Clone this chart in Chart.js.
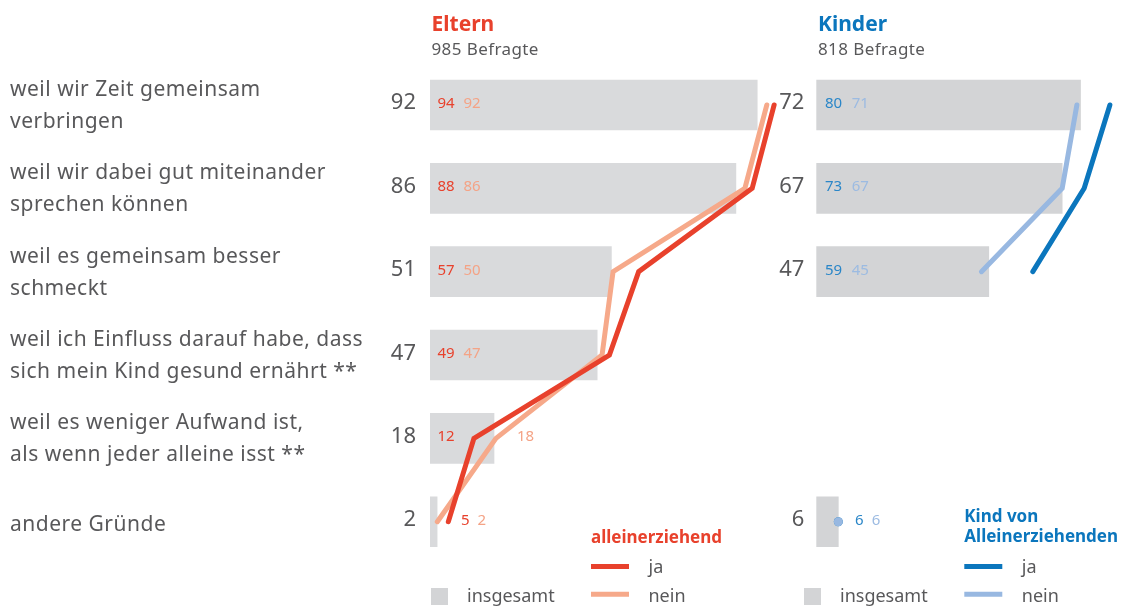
<!DOCTYPE html>
<html>
<head>
<meta charset="utf-8">
<script src="https://cdn.jsdelivr.net/npm/chart.js@4.4.1/dist/chart.umd.min.js"></script>
<style>
  body { margin: 0; background: #fff; width: 1127px; height: 608px; position: relative; overflow: hidden; }
  #eltern { position: absolute; left: 0; top: 0; }
  #kinder { position: absolute; left: 760px; top: 0; }
</style>
</head>
<body>
<canvas id="eltern" width="790" height="608"></canvas>
<canvas id="kinder" width="367" height="608"></canvas>
<script>
// categories
const categories = [
  ['weil wir Zeit gemeinsam', 'verbringen'],
  ['weil wir dabei gut miteinander', 'sprechen können'],
  ['weil es gemeinsam besser', 'schmeckt'],
  ['weil ich Einfluss darauf habe, dass', 'sich mein Kind gesund ernährt **'],
  ['weil es weniger Aufwand ist,', 'als wenn jeder alleine isst **'],
  ['andere Gründe']
];

// Eltern (%)
const elternTotal = [92, 86, 51, 47, 18, 2];
const elternJa = [94, 88, 57, 49, 12, 5];
const elternNein = [92, 86, 50, 47, 18, 2];

// Kinder (%), null = nicht gefragt
const kinderTotal = [72, 67, 47, null, null, 6];
const kinderJa = [80, 73, 59, null, null, 6];
const kinderNein = [71, 67, 45, null, null, 6];

const FONT = '"Noto Sans", "Open Sans", sans-serif';
const GREY_TEXT = '#58585a';

const red = '#e8412c', salmon = '#f6a98a';
const blue = '#0b76bd', lightBlue = '#98b8e1';

function text(ctx, str, x, y, font, color, align, spacing) {
  ctx.font = font + ' ' + FONT;
  ctx.fillStyle = color;
  ctx.textAlign = align || 'left';
  ctx.letterSpacing = (spacing || 0) + 'px';
  ctx.fillText(str, x, y);
  ctx.letterSpacing = '0px';
}

// point only where a value has no neighbours (Kinder "andere Gründe")
function isolated(c) {
  const d = c.dataset.data, i = c.dataIndex;
  return d[i] != null && d[i - 1] == null && d[i + 1] == null;
}

function lineSet(label, role, data, color, order, axis) {
  return {
    type: 'line', label: label, role: role, data: data, order: order, xAxisID: axis,
    borderColor: color, backgroundColor: color, borderWidth: 5,
    borderCapStyle: 'round', spanGaps: false, clip: false,
    pointRadius: c => isolated(c) ? 4.5 : 0,
    pointBorderWidth: 0, pointHoverRadius: 0
  };
}

// text layer: categories, totals, values inside bars, header, legend
function textLayer(cfg) {
  return {
    id: 'textLayer',
    afterDatasetsDraw(chart) {
      const ctx = chart.ctx, y = chart.scales.y, left = chart.chartArea.left;
      const get = role => chart.data.datasets.find(d => d.role === role).data;
      const total = get('total'), ja = get('ja'), nein = get('nein');
      ctx.save();
      ctx.textBaseline = 'alphabetic';
      chart.data.labels.forEach((lab, i) => {
        const py = y.getPixelForValue(i);
        if (cfg.categories) {
          const shift = lab.length > 1 ? 7 : 9;
          lab.forEach((line, k) => {
            text(ctx, line, 10, py - (lab.length - 1) * 16 + k * 32 + shift, '21px', GREY_TEXT, 'left', 0.5);
          });
        }
        if (total[i] == null) return;
        text(ctx, String(total[i]), left - cfg.totalGap, py + 4.5, '22px', GREY_TEXT, 'right');
        const p = cfg.labelPos[i];
        text(ctx, String(ja[i]), left + p[0], py + 3, '15px', cfg.jaText);
        text(ctx, String(nein[i]), left + p[1], py + 3, '15px', cfg.neinText);
      });

      // header
      const h = cfg.header;
      text(ctx, h.title, h.x, 30.5, 'bold 21px', h.color);
      text(ctx, h.sub, h.x, 55, '17px', GREY_TEXT, 'left', 0.4);

      // legend
      const l = cfg.legend;
      ctx.fillStyle = '#d3d4d6';
      ctx.fillRect(l.boxX, 588, 17, 17);
      text(ctx, 'insgesamt', l.boxX + 36, 601.5, '18px', GREY_TEXT);
      l.title.forEach((t, k) => {
        text(ctx, t, l.x, l.titleY + k * 20, 'bold 17px', l.titleColor);
      });
      [[l.ja, 566.5, 'ja', 573], [l.nein, 594.3, 'nein', 601.5]].forEach(r => {
        ctx.strokeStyle = r[0];
        ctx.lineWidth = 5;
        ctx.beginPath();
        ctx.moveTo(l.x, r[1]);
        ctx.lineTo(l.x + 38, r[1]);
        ctx.stroke();
        text(ctx, r[2], l.x + 57.5, r[3], '18px', GREY_TEXT);
      });
      ctx.restore();
    }
  };
}

const baseOptions = (padding, scales) => ({
  indexAxis: 'y',
  responsive: false,
  animation: false,
  layout: { padding: padding },
  scales: Object.assign({
    y: { type: 'category', offset: true, display: false }
  }, scales),
  plugins: { legend: { display: false }, tooltip: { enabled: false } },
  events: []
});

// Eltern
new Chart(document.getElementById('eltern'), {
  type: 'bar',
  data: {
    labels: categories,
    datasets: [
      lineSet('ja', 'ja', elternJa, red, 1, 'xl'),
      lineSet('nein', 'nein', elternNein, salmon, 2, 'xl'),
      { type: 'bar', label: 'insgesamt', role: 'total', data: elternTotal, order: 3, xAxisID: 'x',
        backgroundColor: '#d9dadc', borderWidth: 0, barThickness: 50 }
    ]
  },
  options: baseOptions({ left: 430, right: 10, top: 63.3, bottom: 44.6 }, {
    x: { type: 'linear', axis: 'x', display: false, min: 0, max: 98.4 },
    xl: { type: 'linear', axis: 'x', display: false, min: 0, max: 95.6 }
  }),
  plugins: [textLayer({
    categories: true,
    totalGap: 14,
    labelPos: [[7.5, 33.5], [7.5, 33.5], [7.5, 33.5], [7.5, 33.5], [7.5, 87], [31, 47.5]],
    jaText: '#e8412c', neinText: '#f4a386',
    header: { title: 'Eltern', sub: '985 Befragte', x: 431.5, color: red },
    legend: { boxX: 431, x: 591, title: ['alleinerziehend'], titleY: 543, titleColor: red, ja: red, nein: salmon }
  })]
});

// Kinder
new Chart(document.getElementById('kinder'), {
  type: 'bar',
  data: {
    labels: categories,
    datasets: [
      lineSet('ja', 'ja', kinderJa, blue, 2, 'x'),
      lineSet('nein', 'nein', kinderNein, lightBlue, 1, 'x'),
      { type: 'bar', label: 'insgesamt', role: 'total', data: kinderTotal, order: 3, xAxisID: 'x',
        backgroundColor: '#d3d4d6', borderWidth: 0, barThickness: 50 }
    ]
  },
  options: baseOptions({ left: 56.3, right: 5, top: 63.3, bottom: 44.6 }, {
    x: { type: 'linear', axis: 'x', display: false, min: 0, max: 83.3 }
  }),
  plugins: [textLayer({
    categories: false,
    totalGap: 12,
    labelPos: [[8.7, 35.4], [8.7, 35.4], [8.7, 35.4], null, null, [38.7, 55.4]],
    jaText: '#2a86c8', neinText: '#9cbbe2',
    header: { title: 'Kinder', sub: '818 Befragte', x: 58, color: blue },
    legend: { boxX: 44, x: 204.3, title: ['Kind von', 'Alleinerziehenden'], titleY: 521.7, titleColor: blue, ja: blue, nein: lightBlue }
  })]
});
</script>
</body>
</html>
